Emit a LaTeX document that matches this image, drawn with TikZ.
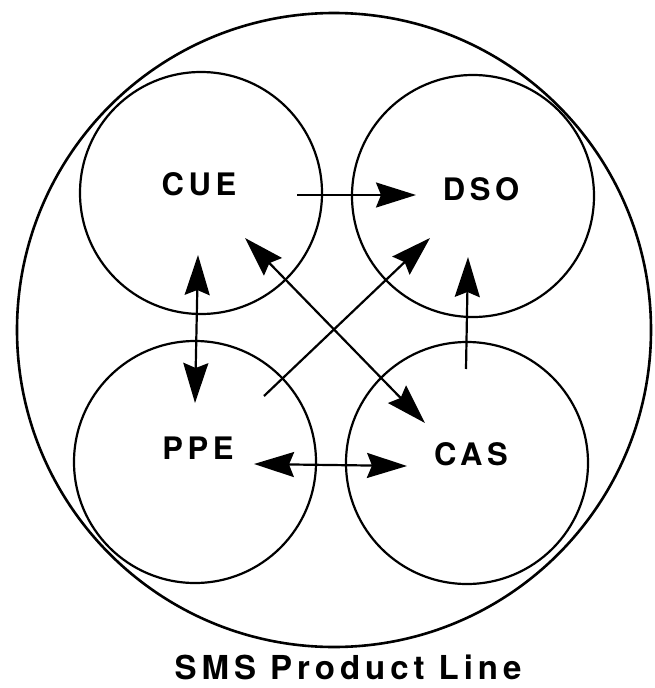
\documentclass[tikz,border=0pt]{standalone}
\usepackage{fontspec}
\setmainfont{TeX Gyre Heros}
\newfontfamily\unitfont[LetterSpace=15]{TeX Gyre Heros}
\usetikzlibrary{arrows.meta}
\tikzset{
  unit/.style={circle, draw, line width=2.2pt, minimum size=242pt, inner sep=0pt},
  unitname/.style={font=\unitfont\bfseries\fontsize{31}{31}\selectfont, inner sep=0pt, anchor=base},
  flow/.style={line width=2.2pt, -{Stealth[length=40pt,width=25pt,inset=5pt]}},
  dflow/.style={line width=2.2pt, {Stealth[length=40pt,width=25pt,inset=5pt]}-{Stealth[length=40pt,width=25pt,inset=5pt]}},
}
\begin{document}
\begin{tikzpicture}[x=1pt,y=-1pt]
\useasboundingbox (0,0) rectangle (655,688);
% product line
\node[circle, draw, line width=2.6pt, minimum size=634pt, inner sep=0pt] (sms) at (334,330) {};
\node[font=\unitfont\bfseries\fontsize{33}{33}\selectfont, inner sep=0pt, anchor=base] (smsname) at (348,679) {SMS Product Line};
% units
\node[unit] (cue) at (201,193) {};
\node[unit] (dso) at (473,196) {};
\node[unit] (ppe) at (195,462) {};
\node[unit] (cas) at (467,463) {};
\node[unitname] (cuename) at (199,195) {CUE};
\node[unitname] (dsoname) at (481,200) {DSO};
\node[unitname] (ppename) at (198,459) {PPE};
\node[unitname] (casname) at (471,465) {CAS};
% arrow ends
\coordinate (cueE) at (297,195);
\coordinate (dsoW) at (416,195);
\coordinate (cueS) at (198,255);
\coordinate (ppeN) at (195,403);
\coordinate (cueSE) at (245,238);
\coordinate (casNW) at (425,423);
\coordinate (ppeNE) at (264,396);
\coordinate (dsoSW) at (430,238);
\coordinate (casN) at (466,369);
\coordinate (dsoS) at (468,257);
\coordinate (ppeE) at (254,464);
\coordinate (casW) at (407,466);
% connections
\draw[flow] (cueE) -- (dsoW);
\draw[dflow] (cueS) -- (ppeN);
\draw[dflow] (cueSE) -- (casNW);
\draw[flow] (ppeNE) -- (dsoSW);
\draw[flow] (casN) -- (dsoS);
\draw[dflow] (ppeE) -- (casW);
\end{tikzpicture}
\end{document}
